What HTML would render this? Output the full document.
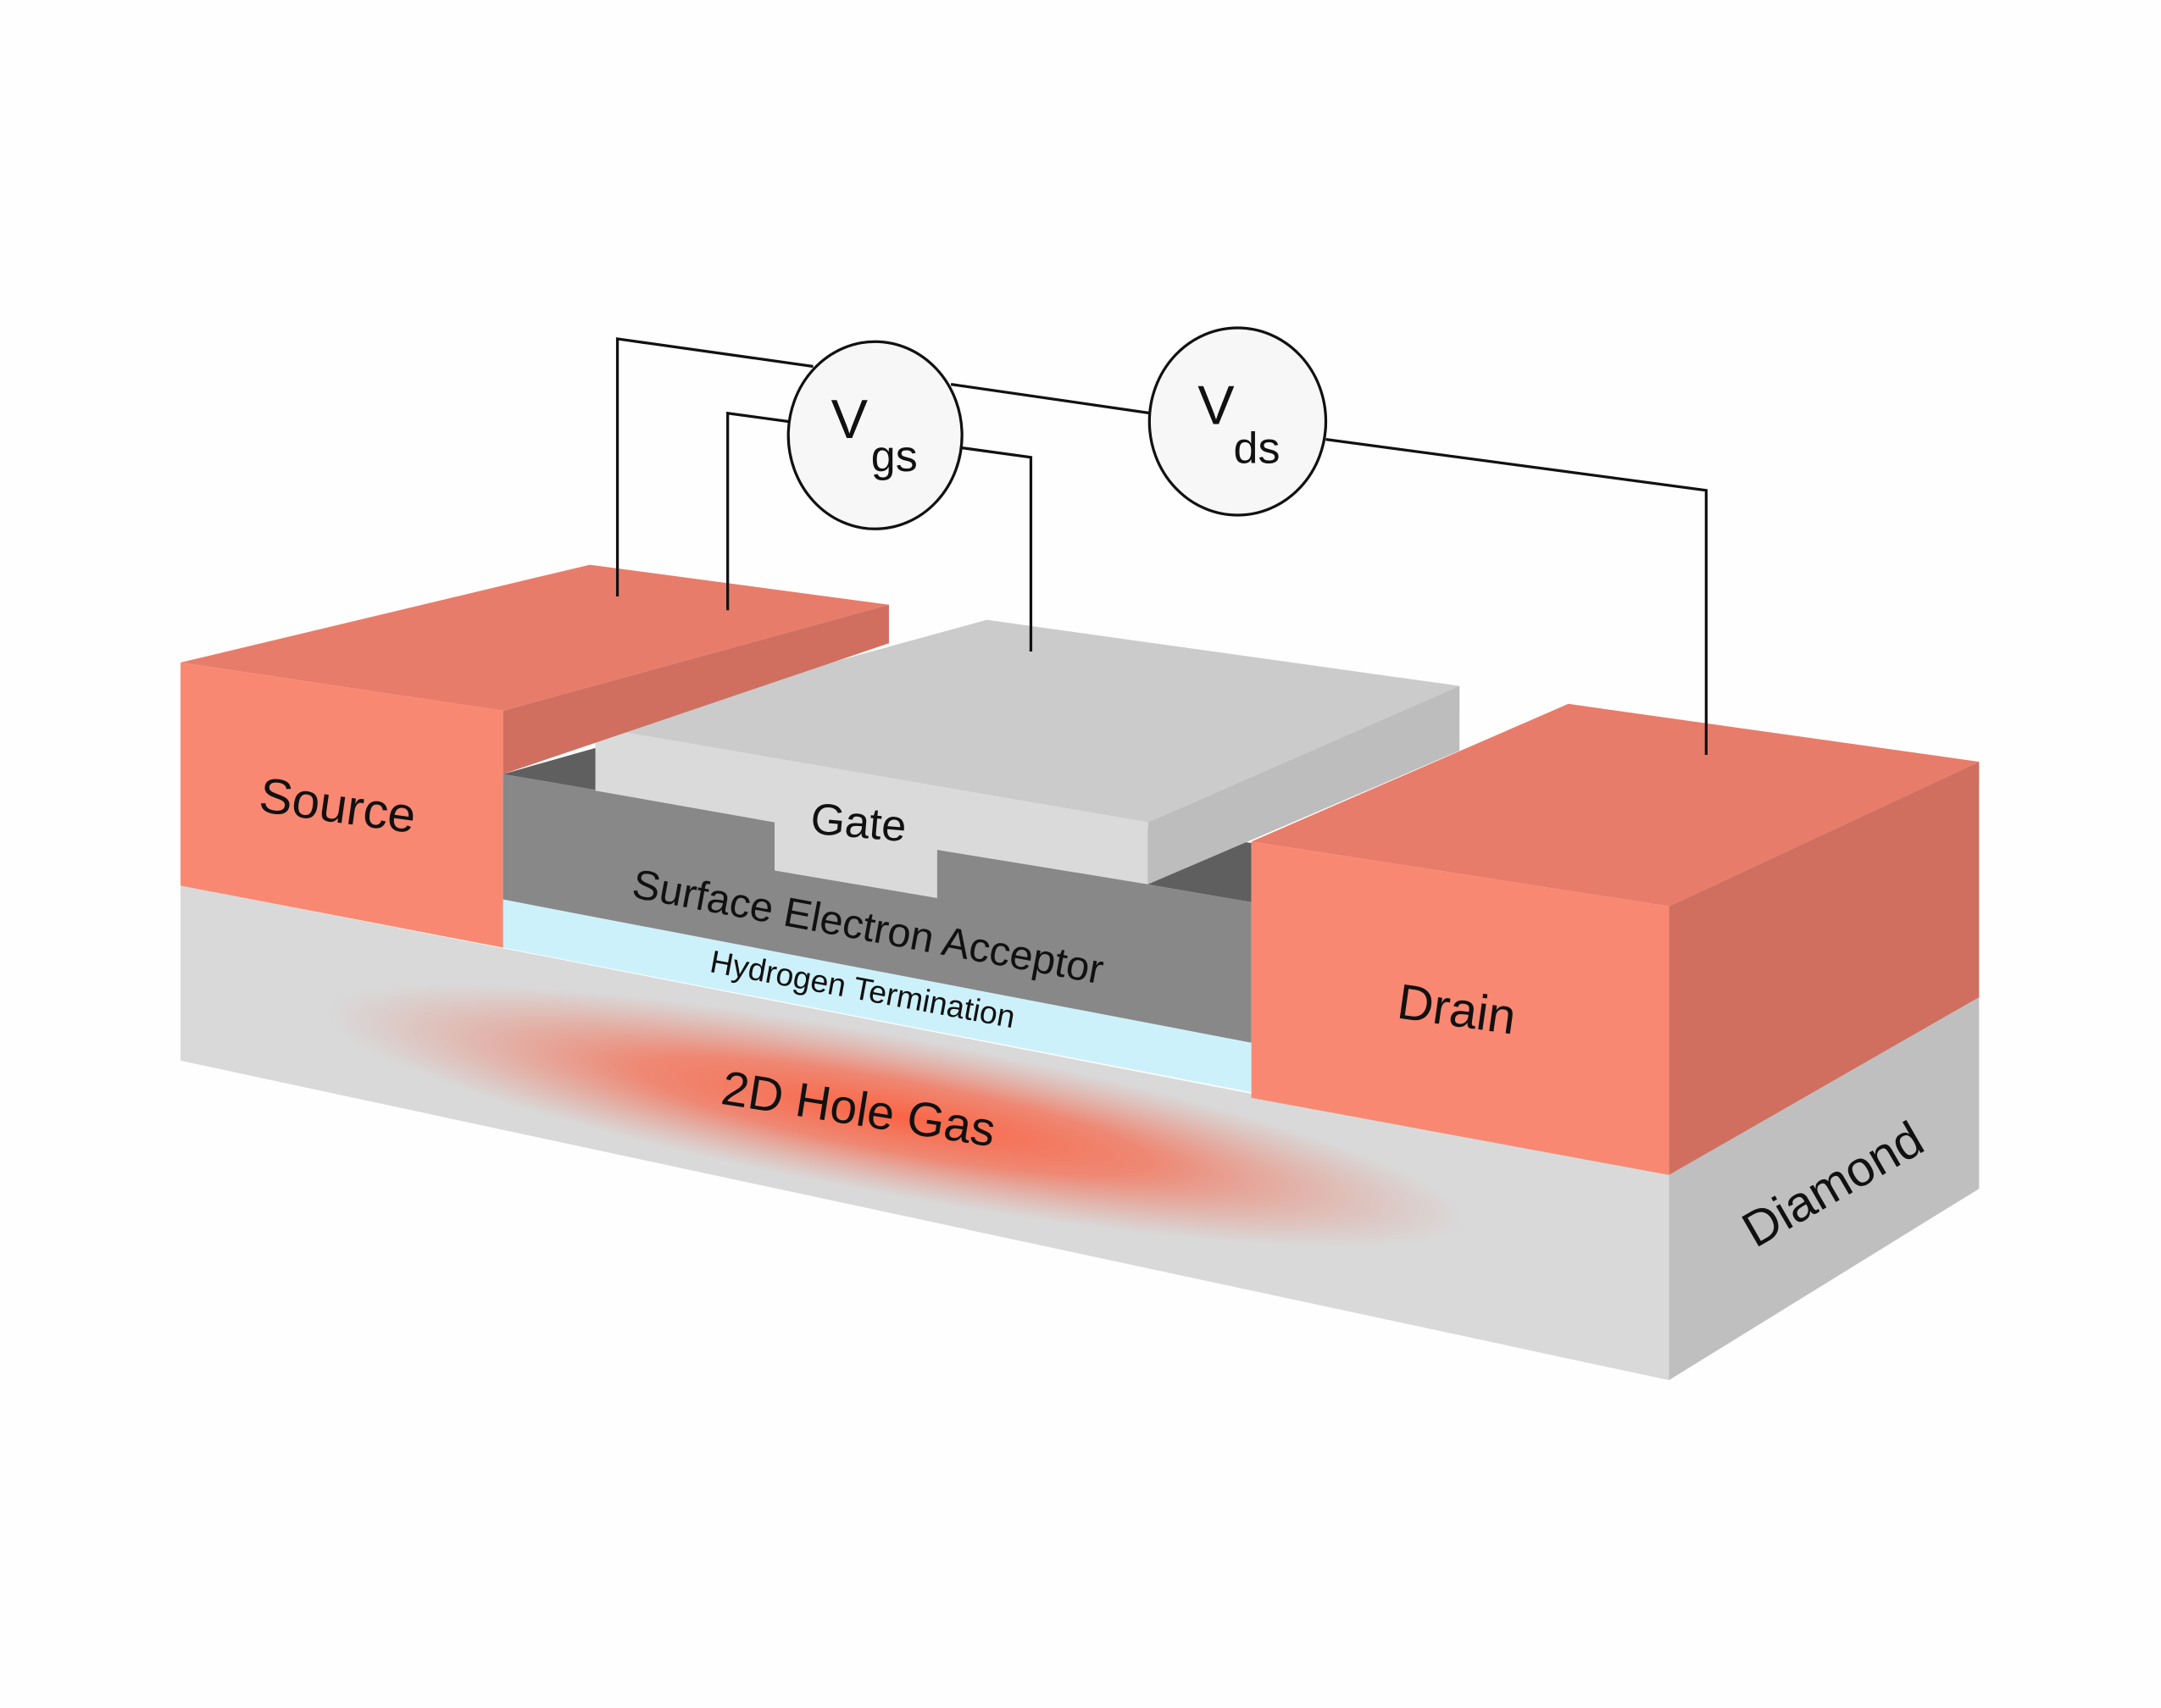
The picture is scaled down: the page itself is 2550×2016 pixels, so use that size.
<!DOCTYPE html>
<html><head><meta charset="utf-8"><style>
html,body{margin:0;padding:0;background:#fefefe;}
svg{display:block;}
text{font-family:"Liberation Sans",sans-serif;fill:#111;}
</style></head><body>
<svg width="2550" height="2016" viewBox="0 0 1568 1240" preserveAspectRatio="none" xmlns="http://www.w3.org/2000/svg">
<defs>
<radialGradient id="hg" cx="50%" cy="50%" r="50%">
<stop offset="0%" stop-color="#fb6444"/>
<stop offset="45%" stop-color="#f27a62" stop-opacity="0.85"/>
<stop offset="100%" stop-color="#e89080" stop-opacity="0"/>
</radialGradient>
</defs>
<rect width="1568" height="1240" fill="#fefefe"/>
<polygon points="131,643 1211,853 1211,1002 131,770" fill="#d9d9d9"/>
<polygon points="1211,853 1436,724 1436,863 1211,1002" fill="#bfbfbf"/>
<ellipse cx="650" cy="810" rx="420" ry="58" fill="url(#hg)" transform="rotate(10.5 650 810)"/>
<polygon points="365,653 908,757 908,793 365,688" fill="#cdf1fb"/>
<polygon points="365,562 432,543 908,612 908,655" fill="#5f5f5f"/>
<polygon points="365,562 908,655 908,757 365,653" fill="#888888"/>
<polygon points="432,528 716,450 1059,498 833,597" fill="#cbcbcb"/>
<polygon points="833,597 1059,498 1059,545 833,642" fill="#bdbdbd"/>
<polygon points="432,528 833,597 833,642 680,617 680,652 562,632 562,597 432,574" fill="#dadada"/>
<polygon points="131,481 428,410 645,439 365,516" fill="#e87c6a"/>
<polygon points="365,516 645,439 645,467 365,562" fill="#d06f60"/>
<polygon points="131,481 365,516 365,688 131,643" fill="#f98872"/>
<polygon points="908,611 1138,511 1436,553 1211,658" fill="#e87c6a"/>
<polygon points="1211,658 1436,553 1436,724 1211,853" fill="#d06f60"/>
<polygon points="908,611 1211,658 1211,853 908,797" fill="#f98872"/>
<g fill="none" stroke="#111" stroke-width="2">
<polyline points="448,433 448,246 590,266"/>
<polyline points="690,279 835,300"/>
<polyline points="962,319 1238,356 1238,548"/>
<polyline points="528,443 528,300 572,306"/>
<polyline points="697,325 748,332 748,473"/>
</g>
<ellipse cx="635" cy="316" rx="63" ry="68" fill="#f7f7f7" stroke="#111" stroke-width="2"/>
<ellipse cx="898" cy="306" rx="64" ry="68" fill="#f7f7f7" stroke="#111" stroke-width="2"/>
<text x="603" y="318" font-size="40">V</text><text x="632" y="342" font-size="32">gs</text>
<text x="869" y="308" font-size="40">V</text><text x="895" y="336" font-size="32">ds</text>
<text x="245" y="597" font-size="36" text-anchor="middle" transform="rotate(8 245 585)">Source</text>
<text x="623" y="608" font-size="32" text-anchor="middle" transform="rotate(5 623 597)">Gate</text>
<text x="630" y="683" font-size="30" text-anchor="middle" transform="rotate(10.5 630 672)">Surface Electron Acceptor</text>
<text x="626" y="726" font-size="23" text-anchor="middle" transform="rotate(10.5 626 718)">Hydrogen Termination</text>
<text x="623" y="817" font-size="35" text-anchor="middle" transform="rotate(9 623 805)">2D Hole Gas</text>
<text x="1057" y="745" font-size="36" text-anchor="middle" transform="rotate(8 1057 733)">Drain</text>
<text x="1330" y="872" font-size="36" text-anchor="middle" transform="rotate(-30 1330 860)">Diamond</text>
</svg>
</body></html>
